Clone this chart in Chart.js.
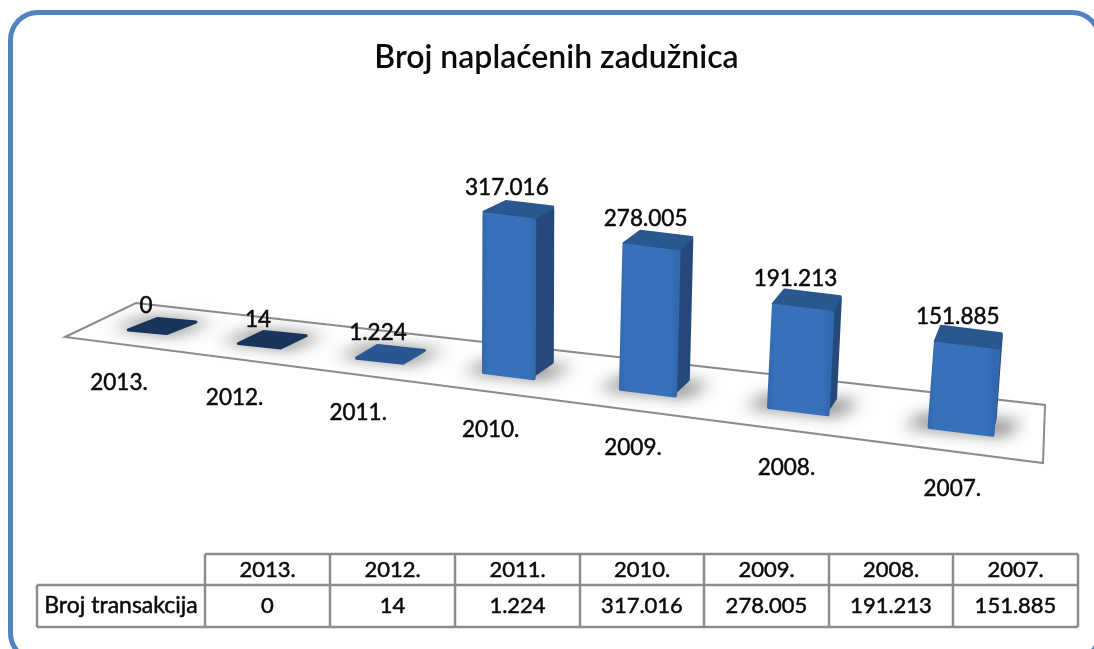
<!DOCTYPE html>
<html>
<head>
<meta charset="utf-8">
<style>
  html, body { margin: 0; padding: 0; background: #fff; overflow: hidden; }
  #wrap { position: relative; width: 1094px; height: 649px; overflow: hidden; filter: blur(0.5px); }
  #frame { position: absolute; left: 8px; top: 10px; width: 1094px; height: 653px; box-sizing: border-box;
           border: 5px solid #5083c0; border-radius: 30px; }
  canvas { position: absolute; left: 0; top: 0; }
</style>
<script src="https://cdn.jsdelivr.net/npm/chart.js@4"></script>
</head>
<body>
<div id="wrap">
  <div id="frame"></div>
  <canvas id="zaduznice" width="1094" height="649"></canvas>
</div>
<script>
const title_text = 'Broj naplaćenih zadužnica';
const row_label = 'Broj transakcija';
const years = ['2013.', '2012.', '2011.', '2010.', '2009.', '2008.', '2007.'];
const transactions = [0, 14, 1224, 317016, 278005, 191213, 151885];
const value_labels = ['0', '14', '1.224', '317.016', '278.005', '191.213', '151.885'];

const FONT = 'Lato, "Open Sans", sans-serif';
const TEXT_COLOR = '#0a0a0a';
const PLOT_LEFT = 83, PLOT_RIGHT = 1030, STEP = 135;
const TABLE_X = [37, 205, 330, 455, 580, 704, 829, 953, 1078];
const TABLE_Y = [554, 585, 627];

// the floor is a plane seen in perspective, t is the bar's position along it
function persp(t) {
  const w = 1 - 0.03326 * t;
  const x = (147 + 103.4 * t) / w;
  return {
    x: x,
    y: 332.5 + 0.1232 * (x - 147),
    s: 1 / w,
    dx: 30 - 4.2 * t,
    dy: -13 - 0.4 * t
  };
}

function poly(ctx, pts) {
  ctx.beginPath();
  pts.forEach((p, i) => i ? ctx.lineTo(p[0], p[1]) : ctx.moveTo(p[0], p[1]));
  ctx.closePath();
}

function paint(ctx, pts, fill, width) {
  poly(ctx, pts);
  ctx.fillStyle = fill;
  ctx.strokeStyle = fill;
  ctx.lineWidth = width;
  ctx.lineJoin = 'round';
  ctx.stroke();
  ctx.fill();
}

// tall faces, pull in on both axes so the round joins give soft corners
function face(ctx, pts, fill) {
  const cx = pts.reduce((a, p) => a + p[0], 0) / pts.length;
  const cy = pts.reduce((a, p) => a + p[1], 0) / pts.length;
  paint(ctx, pts.map(p => [p[0] + 2 * Math.sign(cx - p[0]), p[1] + 2 * Math.sign(cy - p[1])]), fill, 4);
}

// flat faces, pull in towards the middle
function flatFace(ctx, pts, fill) {
  const cx = pts.reduce((a, p) => a + p[0], 0) / pts.length;
  const cy = pts.reduce((a, p) => a + p[1], 0) / pts.length;
  paint(ctx, pts.map(p => {
    const d = Math.hypot(cx - p[0], cy - p[1]);
    return [p[0] + 1.5 * (cx - p[0]) / d, p[1] + 1.5 * (cy - p[1]) / d];
  }), fill, 3);
}

// a bar element that draws its box on the floor, from the x/y/base the scales gave it
class BoxElement extends Chart.BarElement {
  draw(ctx) {
    const {x, y, base, width} = this.getProps(['x', 'y', 'base', 'width']);
    const t = (x - PLOT_LEFT) / STEP - 0.5;
    const p = persp(t);
    const h = (base - y) * 0.42 * p.s;
    const w = width * (1 + 0.108 * t);
    const tilt = 0.115 * w;
    const lean = (p.x - 490) * 0.00015 * h;
    const x0 = p.x - w / 2, x1 = p.x + w / 2;
    const y0 = p.y - tilt / 2, y1 = p.y + tilt / 2;

    ctx.save();
    // shadow on the floor, mostly out to the sides
    const spread = 18 + t;
    ctx.filter = 'blur(8px)';
    poly(ctx, [[x0 - spread, y0 - 2], [x1 + spread * 0.4, y1], [x1 + p.dx + spread, y1 + p.dy], [x0 + p.dx - spread * 0.4, y0 + p.dy]]);
    ctx.fillStyle = 'rgba(60,60,60,0.6)';
    ctx.fill();
    ctx.filter = 'none';

    if (h > 1) {
      const dx = 34 - 5.3 * t;
      const lid = -7 - 1.5 * t;
      const bl = [x0, y0], br = [x1, y1];
      const tl = [x0 + lean, y0 - h], tr = [x1 + lean, y1 - h];
      const tbl = [tl[0] + dx + 4, tl[1] + lid];
      const tbr = [tr[0] + dx, tr[1] + lid];
      const bbr = [br[0] + dx, br[1] - 16];
      const g = ctx.createLinearGradient(x0, 0, x1, 0);
      g.addColorStop(0, '#3168ae');
      g.addColorStop(0.12, '#3671ba');
      g.addColorStop(0.88, '#3671ba');
      g.addColorStop(1, '#3168ae');
      // side runs on under the front so no seam shows between them
      face(ctx, [bbr, tbr, [tr[0] - 6, tr[1]], [br[0] - 6, br[1] - 2]], '#24497a');
      flatFace(ctx, [tl, tbl, tbr, tr], '#29588f');
      face(ctx, [bl, tl, tr, br], g);
    } else {
      // next to no height, only the lid can be seen
      const pts = [[x0, y0], [x1, y1], [x1 + p.dx, y1 + p.dy], [x0 + p.dx, y0 + p.dy]];
      flatFace(ctx, pts, h > 0.1 ? '#2a5690' : '#1a355c');
    }
    ctx.restore();
  }
}
BoxElement.id = 'boxElement';
BoxElement.defaults = Chart.BarElement.defaults;

class BoxController extends Chart.BarController {}
BoxController.id = 'box';
BoxController.defaults = Object.assign({}, Chart.BarController.defaults, {dataElementType: 'boxElement'});
BoxController.overrides = Chart.BarController.overrides;

Chart.register(BoxElement, BoxController);

function heavyText(ctx, text, x, y) {
  ctx.fillText(text, x, y);
  ctx.strokeText(text, x, y);
}

const floor_plugin = {
  id: 'floor',
  beforeDatasetsDraw(chart) {
    const ctx = chart.ctx;
    ctx.save();
    poly(ctx, [[65, 337], [136, 303], [1045, 405], [1043, 463]]);
    ctx.fillStyle = '#fff';
    ctx.fill();
    ctx.strokeStyle = '#8c8c8c';
    ctx.lineWidth = 2;
    ctx.stroke();
    ctx.restore();
  }
};

const labels_plugin = {
  id: 'labels',
  afterDatasetsDraw(chart) {
    const ctx = chart.ctx;
    const meta = chart.getDatasetMeta(0);
    ctx.save();
    ctx.fillStyle = TEXT_COLOR;
    ctx.strokeStyle = TEXT_COLOR;
    ctx.lineWidth = 0.5;
    ctx.textAlign = 'center';
    ctx.textBaseline = 'middle';
    ctx.font = '22.5px ' + FONT;
    meta.data.forEach((bar, i) => {
      const p = persp(i);
      const h = (bar.base - bar.y) * 0.42 * p.s;
      heavyText(ctx, value_labels[i], p.x - 1, p.y - h + p.dy - 13.5);
      heavyText(ctx, years[i], p.x - 28 + 3.6 * i, p.y + 50 + i);
    });
    ctx.restore();
  }
};

const table_plugin = {
  id: 'dataTable',
  afterDraw(chart) {
    const ctx = chart.ctx;
    ctx.save();
    ctx.strokeStyle = '#8c8c8c';
    ctx.lineWidth = 2.5;
    ctx.beginPath();
    ctx.moveTo(TABLE_X[1], TABLE_Y[0]);
    ctx.lineTo(TABLE_X[8], TABLE_Y[0]);
    ctx.moveTo(TABLE_X[0], TABLE_Y[1]);
    ctx.lineTo(TABLE_X[8], TABLE_Y[1]);
    ctx.moveTo(TABLE_X[0], TABLE_Y[2]);
    ctx.lineTo(TABLE_X[8], TABLE_Y[2]);
    ctx.moveTo(TABLE_X[0], TABLE_Y[1]);
    ctx.lineTo(TABLE_X[0], TABLE_Y[2]);
    TABLE_X.slice(1).forEach(x => {
      ctx.moveTo(x, TABLE_Y[0]);
      ctx.lineTo(x, TABLE_Y[2]);
    });
    ctx.stroke();

    ctx.fillStyle = TEXT_COLOR;
    ctx.strokeStyle = TEXT_COLOR;
    ctx.lineWidth = 0.5;
    ctx.textBaseline = 'middle';
    ctx.textAlign = 'center';
    ctx.font = '23px ' + FONT;
    heavyText(ctx, row_label, (TABLE_X[0] + TABLE_X[1]) / 2, 606);
    ctx.font = '22px ' + FONT;
    years.forEach((year, i) => {
      const cx = (TABLE_X[i + 1] + TABLE_X[i + 2]) / 2;
      heavyText(ctx, year, cx, 570);
      heavyText(ctx, value_labels[i], cx, 606);
    });
    ctx.restore();
  }
};

const data_zaduznice = {
  labels: years,
  datasets: [{
    label: row_label,
    data: transactions,
    barPercentage: 0.3,
    categoryPercentage: 1
  }]
};

const config_zaduznice = {
  type: 'box',
  data: data_zaduznice,
  plugins: [floor_plugin, labels_plugin, table_plugin],
  options: {
    responsive: false,
    animation: false,
    layout: {padding: {left: PLOT_LEFT, right: 1094 - PLOT_RIGHT, top: 0, bottom: 170}},
    scales: {
      x: {display: false},
      y: {display: false, min: 0, max: 350000}
    },
    plugins: {
      legend: {display: false},
      tooltip: {enabled: false},
      title: {
        display: true,
        text: title_text,
        color: TEXT_COLOR,
        font: {family: FONT, size: 32, weight: '600', lineHeight: 1.2},
        padding: {top: 38, bottom: 20}
      }
    }
  }
};

const chart_zaduznice = new Chart(document.getElementById('zaduznice'), config_zaduznice);
</script>
</body>
</html>
